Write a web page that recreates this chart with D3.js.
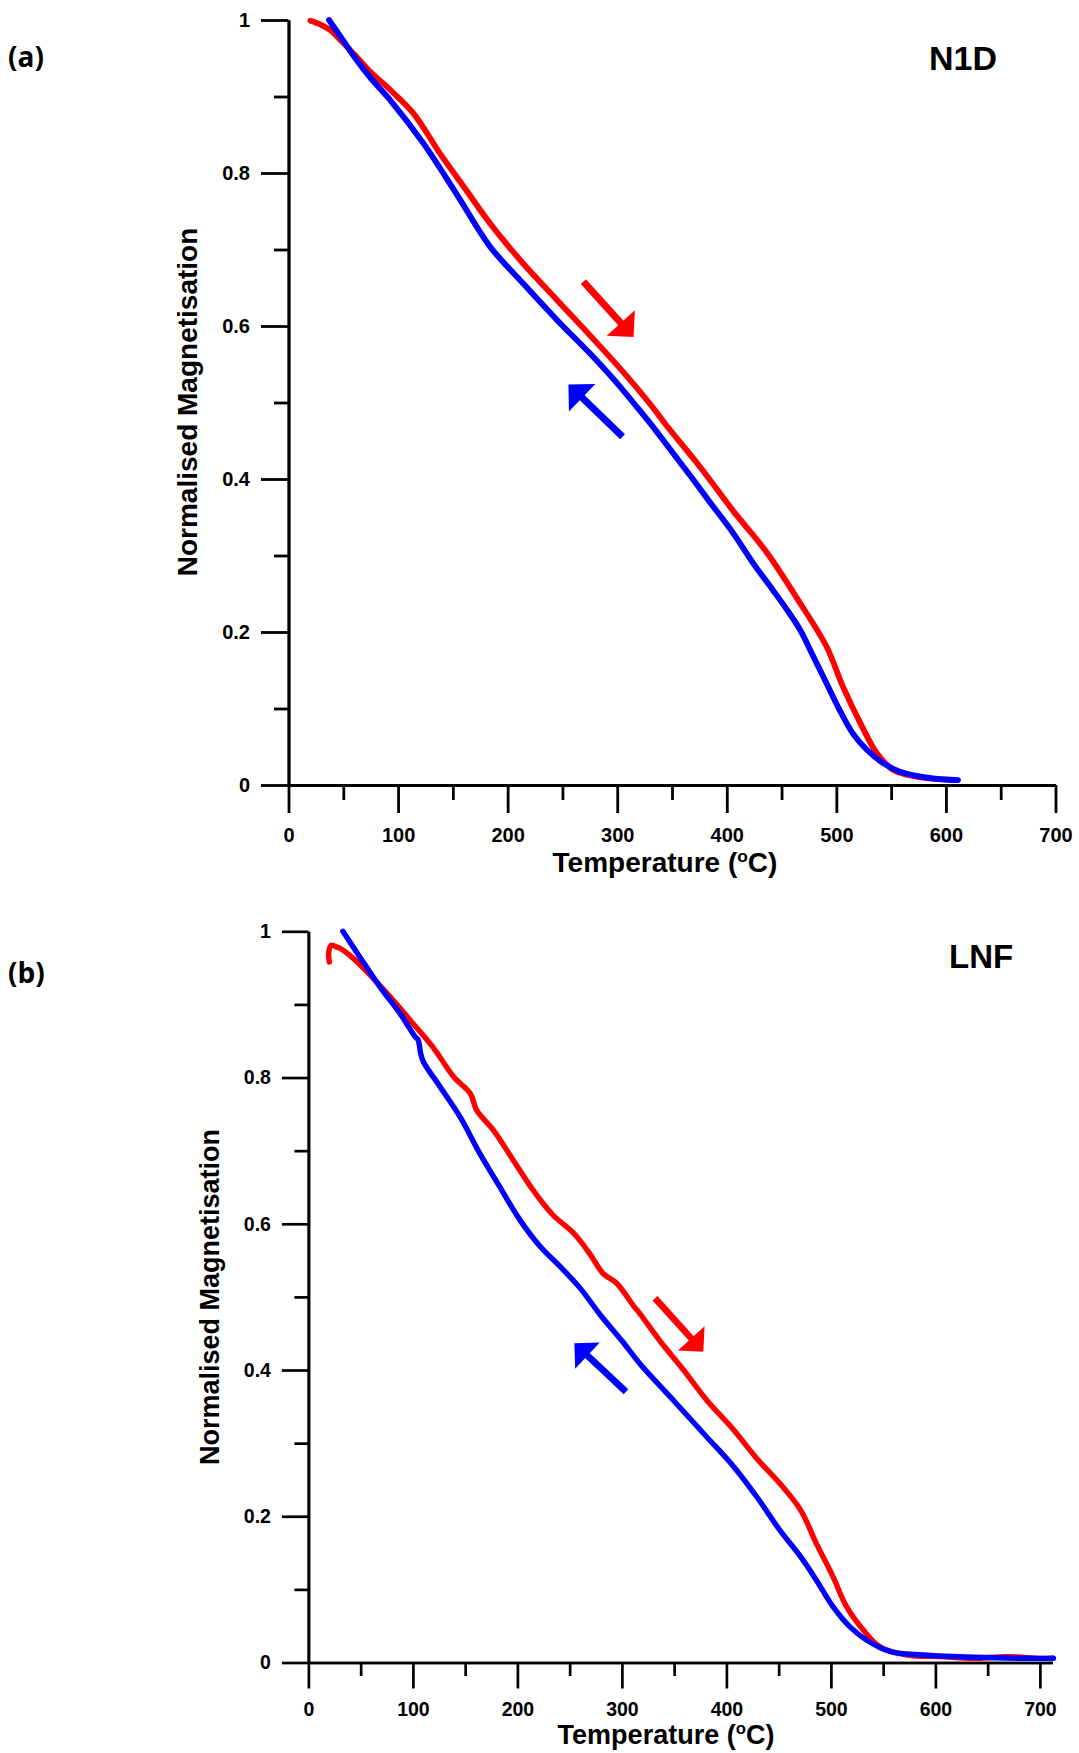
<!DOCTYPE html>
<html><head><meta charset="utf-8">
<script src="https://cdn.jsdelivr.net/npm/d3@7"></script>
<style>
html,body{margin:0;padding:0;background:#fff;}
svg{display:block;}
</style></head>
<body>
<svg id="chart" width="1079" height="1753"></svg>
<script>
// ---------- DATA ----------
const xMajorTicks = [0, 100, 200, 300, 400, 500, 600, 700];
const xMinorTicks = [50, 150, 250, 350, 450, 550, 650];
const yMajorTicks = [0, 0.2, 0.4, 0.6, 0.8, 1];
const yMinorTicks = [0.1, 0.3, 0.5, 0.7, 0.9];
const panelLabels = ["(a)", "(b)"];
const sampleNames = ["N1D", "LNF"];
const xTitleMain = "Temperature (";
const xTitleSup = "o";
const xTitleEnd = "C)";
const yTitle = "Normalised Magnetisation";

// Panel (a) N1D – heating (red)
const aHeatT = [20, 26, 32, 38, 50, 62, 75, 93, 114, 138, 160, 184, 214, 245, 275, 306, 330, 345, 376, 406, 437, 467, 491, 506, 522, 537, 552, 573, 590, 605];
const aHeatM = [0.999, 0.996, 0.992, 0.987, 0.970, 0.952, 0.932, 0.9085, 0.878, 0.826, 0.782, 0.734, 0.682, 0.634, 0.588, 0.539, 0.498, 0.470, 0.415, 0.358, 0.303, 0.2375, 0.181, 0.1285, 0.0806, 0.0414, 0.0196, 0.0109, 0.008, 0.0065];
// Panel (a) N1D – cooling (blue)
const aCoolT = [37, 50, 62, 75, 93, 123, 153, 184, 214, 245, 275, 300, 318, 330, 354, 370, 385, 406, 424, 442, 455, 467, 479, 491, 503, 515, 528, 543, 558, 588, 611];
const aCoolM = [1.0, 0.973, 0.948, 0.924, 0.895, 0.839, 0.7734, 0.7037, 0.6558, 0.608, 0.5643, 0.525, 0.494, 0.473, 0.428, 0.398, 0.369, 0.329, 0.290, 0.255, 0.229, 0.2026, 0.168, 0.133, 0.098, 0.0675, 0.0458, 0.0283, 0.0174, 0.0087, 0.0065];
// Panel (b) LNF – heating (red)
const bHeatT = [20, 19.5, 22, 26, 30, 43, 62, 81, 100, 120, 139, 155, 161, 177, 196, 215, 234, 254, 269, 282, 295, 311, 317, 337, 359, 381, 407, 429, 451, 471, 486, 502, 515, 531, 547, 573, 605, 636, 668, 700, 712];
const bHeatM = [0.958, 0.972, 0.981, 0.979, 0.977, 0.963, 0.9356, 0.906, 0.874, 0.840, 0.801, 0.778, 0.7555, 0.728, 0.687, 0.646, 0.612, 0.587, 0.5596, 0.532, 0.5186, 0.488, 0.4775, 0.4387, 0.400, 0.359, 0.318, 0.279, 0.245, 0.2085, 0.163, 0.1174, 0.0763, 0.0444, 0.0216, 0.0103, 0.008, 0.0057, 0.008, 0.0057, 0.006];
// Panel (b) LNF – cooling (blue)
const bCoolT = [33, 49, 68.5, 87.6, 102, 105, 107.4, 110, 126, 145, 164, 183, 202.5, 222, 241, 260, 279, 300, 317, 349, 381, 407, 429, 451, 471, 486, 502, 518, 534, 557, 589, 636, 700, 713];
const bCoolM = [1.0, 0.9652, 0.924, 0.8878, 0.856, 0.8514, 0.833, 0.8216, 0.7874, 0.7464, 0.6963, 0.6507, 0.605, 0.5686, 0.5413, 0.512, 0.476, 0.44, 0.409, 0.359, 0.3088, 0.2678, 0.2267, 0.1812, 0.1447, 0.1128, 0.0763, 0.049, 0.0308, 0.0148, 0.0103, 0.0071, 0.0057, 0.006];

// Arrow annotations [tail, tip] in data units
const aHeatArrow = [[269.1, 0.658], [314.9, 0.5856]];
const aCoolArrow = [[304.9, 0.4553], [255.5, 0.5235]];
const bHeatArrow = [[331.7, 0.498], [377.9, 0.425]];
const bCoolArrow = [[303.9, 0.3703], [254.5, 0.4365]];

// ---------- LAYOUT / STYLE ----------
const RED = "#ff0000", BLUE = "#0000ff";
const FONT = "'Liberation Sans', Arial, Helvetica, sans-serif";
const LABEL_FONT = "'Open Sans', 'Noto Sans', sans-serif";
const panels = [
  {label: panelLabels[0], name: sampleNames[0], xMax: 700, left: 288.5, ppu: 1.0957, top: 20, bottom: 785,
   yMaj: 27.5, yMin: 14.5, xMaj: 28, xMin: 15, yPad: 11, xPad: 15, tickFont: 20, titleFont: 28,
   xTitlePos: [665, 872], yTitlePos: [197, 402], labelPos: [8, 67], labelFont: 28, namePos: [929, 70], nameFont: 34,
   curveW: 5.8, axisW: 2.8, arrowW: 7, headL: 19,
   heat: [aHeatT, aHeatM], cool: [aCoolT, aCoolM], arrows: [[aHeatArrow, RED], [aCoolArrow, BLUE]]},
  {label: panelLabels[1], name: sampleNames[1], xMax: 712, left: 308.4, ppu: 1.045, top: 931.3, bottom: 1662.5,
   yMaj: 26.5, yMin: 14, xMaj: 26, xMin: 13.5, yPad: 11, xPad: 14, tickFont: 19.5, titleFont: 27,
   xTitlePos: [666, 1744], yTitlePos: [219, 1297], labelPos: [8, 983], labelFont: 28, namePos: [949, 968], nameFont: 33,
   curveW: 5.4, axisW: 2.7, arrowW: 6.7, headL: 18,
   heat: [bHeatT, bHeatM], cool: [bCoolT, bCoolM], arrows: [[bHeatArrow, RED], [bCoolArrow, BLUE]]}
];

const svg = d3.select("#chart");
svg.append("rect").attr("width", 1079).attr("height", 1753).attr("fill", "#fff");

function fmtY(d) { return d === 0 ? "0" : d === 1 ? "1" : d3.format(".1f")(d); }

panels.forEach(p => {
  const g = svg.append("g");
  const x = d3.scaleLinear().domain([0, p.xMax]).range([p.left, p.left + p.xMax * p.ppu]);
  const y = d3.scaleLinear().domain([0, 1]).range([p.bottom, p.top]);

  // curves
  const line = d3.line().x(d => x(d[0])).y(d => y(d[1])).curve(d3.curveCatmullRom.alpha(0.5));
  [[p.heat, RED], [p.cool, BLUE]].forEach(([s, col]) => {
    const pts = s[0].map((t, i) => [t, s[1][i]]);
    g.append("path").datum(pts).attr("d", line)
      .attr("fill", "none").attr("stroke", col).attr("stroke-width", p.curveW)
      .attr("stroke-linejoin", "round").attr("stroke-linecap", "round");
  });

  // axes
  const styleAxis = sel => {
    sel.selectAll("path,line").attr("stroke", "#000").attr("stroke-width", p.axisW);
    sel.selectAll("text").attr("font-family", FONT).attr("font-weight", "bold")
      .attr("font-size", p.tickFont).attr("fill", "#000");
  };
  g.append("g").attr("transform", `translate(0,${p.bottom})`)
    .call(d3.axisBottom(x).tickValues(xMinorTicks).tickSize(p.xMin).tickSizeOuter(0).tickFormat(""))
    .call(styleAxis);
  g.append("g").attr("transform", `translate(0,${p.bottom})`)
    .call(d3.axisBottom(x).tickValues(xMajorTicks).tickSize(p.xMaj).tickSizeOuter(0).tickPadding(p.xPad).tickFormat(d3.format("d")))
    .call(styleAxis);
  g.append("g").attr("transform", `translate(${p.left},0)`)
    .call(d3.axisLeft(y).tickValues(yMinorTicks).tickSize(p.yMin).tickSizeOuter(0).tickFormat(""))
    .call(styleAxis);
  g.append("g").attr("transform", `translate(${p.left},0)`)
    .call(d3.axisLeft(y).tickValues(yMajorTicks).tickSize(p.yMaj).tickSizeOuter(0).tickPadding(p.yPad).tickFormat(fmtY))
    .call(styleAxis);

  // arrows
  p.arrows.forEach(([a, col]) => {
    const x0 = x(a[0][0]), y0 = y(a[0][1]), x1 = x(a[1][0]), y1 = y(a[1][1]);
    const dx = x1 - x0, dy = y1 - y0, len = Math.hypot(dx, dy);
    const ux = dx / len, uy = dy / len, nx = -uy, ny = ux;
    const bx = x1 - ux * p.headL, by = y1 - uy * p.headL;
    g.append("line").attr("x1", x0).attr("y1", y0).attr("x2", bx + ux * 2).attr("y2", by + uy * 2)
      .attr("stroke", col).attr("stroke-width", p.arrowW);
    g.append("polygon").attr("points", [[x1, y1], [bx + nx * p.headL, by + ny * p.headL], [bx - nx * p.headL, by - ny * p.headL]].map(q => q.join(",")).join(" "))
      .attr("fill", col);
  });

  // axis titles
  const xt = g.append("text").attr("x", p.xTitlePos[0]).attr("y", p.xTitlePos[1])
    .attr("text-anchor", "middle").attr("font-family", FONT).attr("font-weight", "bold").attr("font-size", p.titleFont);
  xt.append("tspan").text(xTitleMain);
  xt.append("tspan").attr("font-size", p.titleFont * 0.62).attr("dy", -p.titleFont * 0.36).text(xTitleSup);
  xt.append("tspan").attr("dy", p.titleFont * 0.36).text(xTitleEnd);

  g.append("text").attr("transform", `translate(${p.yTitlePos[0]},${p.yTitlePos[1]}) rotate(-90)`)
    .attr("text-anchor", "middle").attr("font-family", FONT).attr("font-weight", "bold")
    .attr("font-size", p.titleFont).text(yTitle);

  // panel label and sample name
  g.append("text").attr("x", p.labelPos[0]).attr("y", p.labelPos[1])
    .attr("font-family", LABEL_FONT).attr("font-weight", "bold")
    .attr("font-size", p.labelFont).text(p.label);
  g.append("text").attr("x", p.namePos[0]).attr("y", p.namePos[1])
    .attr("font-family", FONT).attr("font-weight", "bold")
    .attr("font-size", p.nameFont).text(p.name);
});
</script>
</body></html>
